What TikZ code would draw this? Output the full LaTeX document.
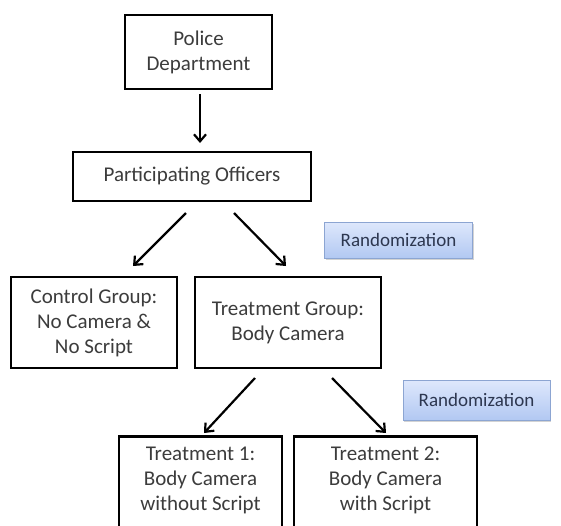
\documentclass[tikz,border=0pt]{standalone}
\usepackage{fontspec}
\setmainfont{Carlito}
\usetikzlibrary{arrows.meta,shadows}
\definecolor{txt}{RGB}{60,60,60}
\definecolor{randtop}{RGB}{222,232,252}
\definecolor{randbot}{RGB}{178,200,242}
\definecolor{randborder}{RGB}{140,165,210}
\definecolor{randtxt}{RGB}{45,55,80}
\begin{document}
\begin{tikzpicture}[x=1pt,y=-1pt,
  blk/.style={draw=black,line width=2.6pt,fill=white,text=txt,align=center,font=\fontsize{21}{25}\selectfont,inner sep=0pt},
  rand/.style={draw=randborder,line width=0.8pt,top color=randtop,bottom color=randbot,text=randtxt,font=\fontsize{19}{22}\selectfont,inner sep=0pt,drop shadow={shadow xshift=1pt,shadow yshift=-2pt,opacity=0.35}},
  arr/.style={-{Straight Barb[length=7pt,width=12pt]},line width=2.2pt,black}]
\useasboundingbox (0,0) rectangle (561,525);
\begin{scope}
\clip (0,0) rectangle (561,525);
\node[blk,minimum width=147pt,minimum height=74pt] (pd) at (198.5,52) {Police\\Department};
\node[blk,minimum width=238pt,minimum height=49pt] (po) at (192,176.5) {Participating Officers};
\node[blk,minimum width=166pt,minimum height=91pt] (cg) at (94,322.5) {Control Group:\\No Camera \&\\No Script};
\node[blk,minimum width=186pt,minimum height=91pt] (tg) at (288,322.5) {Treatment Group:\\Body Camera};
\node[blk,minimum width=163pt,minimum height=100pt,anchor=north] (t1) at (200.5,435) {};
\node[blk,minimum width=183pt,minimum height=100pt,anchor=north] (t2) at (385.5,435) {};
\node[text=txt,align=center,font=\fontsize{21}{25}\selectfont] (t1t) at (200.5,480) {Treatment 1:\\Body Camera\\without Script};
\node[text=txt,align=center,font=\fontsize{21}{25}\selectfont] (t2t) at (385.5,480) {Treatment 2:\\Body Camera\\with Script};
\node[rand,minimum width=148pt,minimum height=36pt] (r1) at (398.5,240) {Randomization};
\node[rand,minimum width=147pt,minimum height=40pt] (r2) at (476.5,400) {Randomization};
\coordinate (a1s) at (200,94);
\coordinate (a1e) at (200,143);
\draw[arr] (a1s) -- (a1e);
\coordinate (a2s) at (186,213);
\coordinate (a2e) at (133,266);
\draw[arr] (a2s) -- (a2e);
\coordinate (a3s) at (234,213);
\coordinate (a3e) at (286,266);
\draw[arr] (a3s) -- (a3e);
\coordinate (a4s) at (255,378);
\coordinate (a4e) at (204,433);
\draw[arr] (a4s) -- (a4e);
\coordinate (a5s) at (332,378);
\coordinate (a5e) at (386,433);
\draw[arr] (a5s) -- (a5e);
\end{scope}
\end{tikzpicture}
\end{document}
